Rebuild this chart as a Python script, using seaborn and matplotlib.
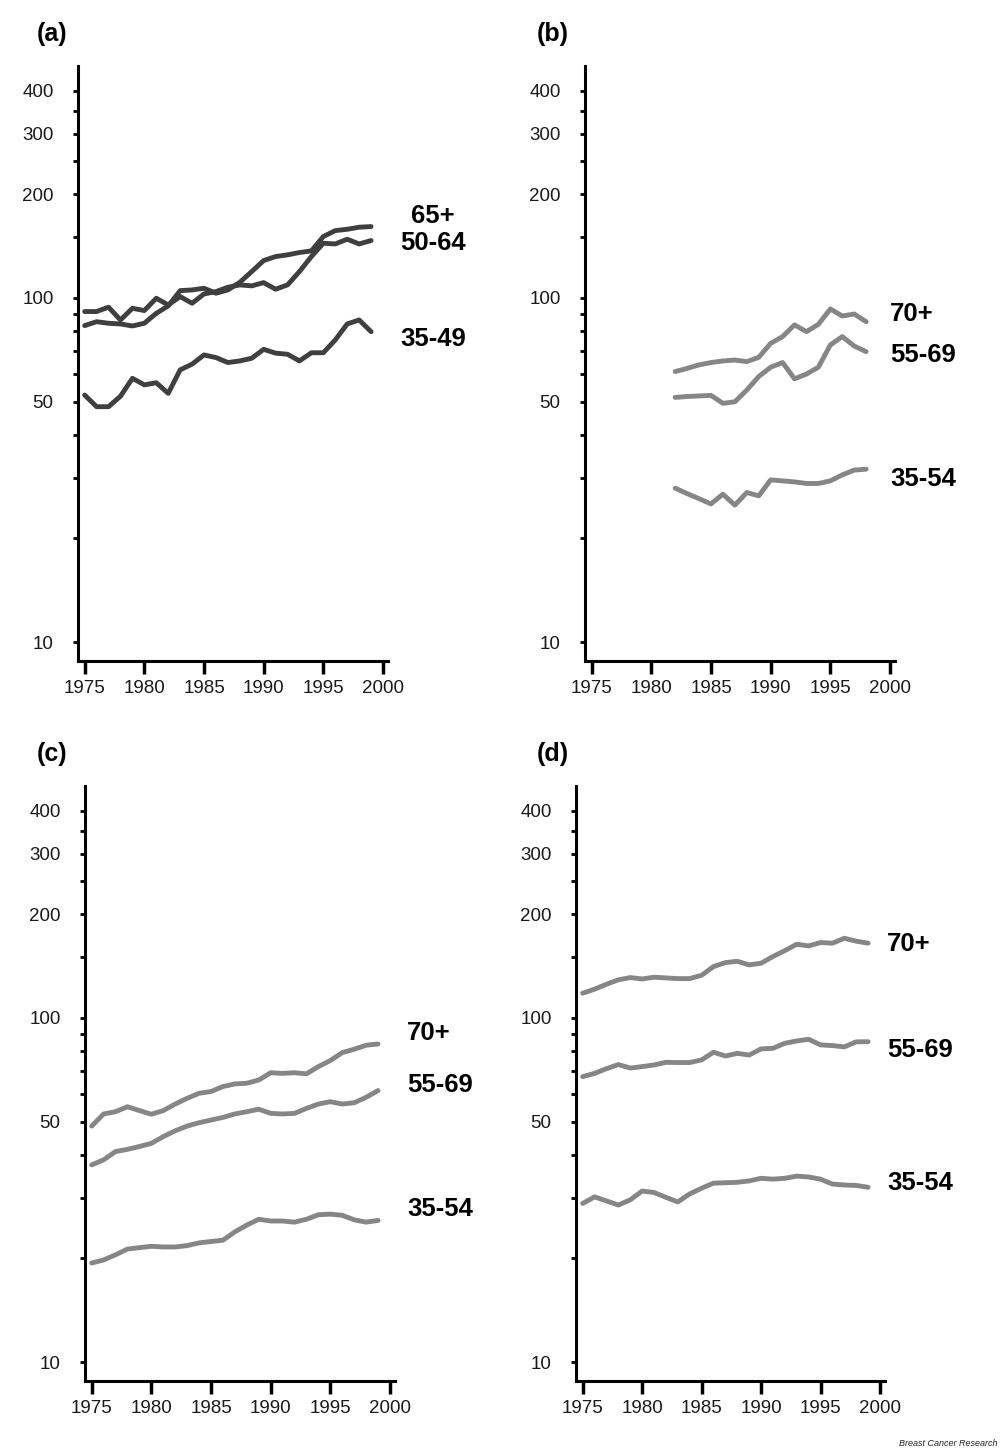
import matplotlib
matplotlib.use("Agg")
import matplotlib.pyplot as plt
import seaborn as sns
import pandas as pd
from matplotlib.ticker import FixedLocator, NullFormatter, FixedFormatter

# ---------------- data ----------------
years_full = list(range(1975, 2000))
years_b = list(range(1982, 1999))

# panel (a)
a_65 = [83.1, 85.3, 84.4, 84.0, 82.9, 84.4, 90.2, 94.8, 105.0, 105.5, 106.7, 103.2, 105.5,
        111.0, 119.3, 128.4, 131.9, 133.4, 135.5, 137.0, 150.8, 156.9, 158.3, 160.5, 161.2]
a_50 = [91.3, 91.3, 94.0, 86.3, 93.3, 91.9, 99.8, 95.4, 100.9, 96.5, 102.7, 104.3, 107.4,
        109.1, 108.4, 110.8, 106.0, 109.1, 119.3, 131.9, 144.2, 143.5, 148.1, 143.5, 146.8]
a_35 = [52.2, 48.3, 48.3, 51.8, 58.4, 55.9, 56.7, 52.8, 61.8, 64.2, 68.3, 67.1, 64.9,
        65.6, 66.8, 70.9, 69.1, 68.6, 65.6, 69.3, 69.3, 75.5, 84.0, 86.3, 79.8]

# panel (b)
b_70 = [61.1, 62.4, 63.9, 64.9, 65.6, 66.0, 65.3, 67.2, 73.8, 77.2, 83.5, 79.8, 83.8,
        92.9, 88.6, 89.8, 85.3]
b_55 = [51.4, 51.7, 51.9, 52.1, 49.4, 49.9, 54.0, 59.1, 62.9, 64.9, 58.2, 60.1, 62.9,
        73.0, 77.2, 72.5, 69.8]
b_35 = [28.0, 27.0, 26.1, 25.2, 26.9, 25.0, 27.2, 26.6, 29.6, 29.4, 29.2, 28.9, 28.9,
        29.4, 30.6, 31.6, 31.8]

# panel (c)
c_70 = [48.5, 52.6, 53.4, 55.2, 53.8, 52.5, 53.8, 56.2, 58.4, 60.4, 61.1, 63.2, 64.3,
        64.6, 66.0, 69.3, 69.0, 69.3, 68.8, 72.2, 75.2, 79.3, 81.1, 83.3, 84.0]
c_55 = [37.4, 38.7, 40.9, 41.5, 42.3, 43.2, 45.2, 47.0, 48.5, 49.6, 50.5, 51.4, 52.6,
        53.4, 54.3, 52.8, 52.6, 52.8, 54.6, 56.2, 57.1, 56.2, 56.7, 58.8, 61.5]
c_35 = [19.4, 19.8, 20.5, 21.3, 21.5, 21.7, 21.6, 21.6, 21.8, 22.2, 22.4, 22.6, 23.9,
        25.0, 26.0, 25.7, 25.7, 25.5, 26.0, 26.8, 26.9, 26.7, 25.9, 25.5, 25.8]

# panel (d)
d_70 = [118.0, 121.2, 125.3, 129.0, 131.0, 129.8, 131.3, 130.7, 130.1, 130.1, 133.0, 141.0, 144.8,
        146.1, 142.6, 144.2, 150.8, 156.9, 163.7, 161.9, 165.6, 164.9, 170.4, 167.1, 164.9]
d_55 = [67.5, 69.0, 71.2, 73.2, 71.5, 72.2, 73.0, 74.3, 74.2, 74.2, 75.5, 79.5, 77.5,
        78.9, 78.0, 81.3, 81.6, 84.4, 85.7, 86.7, 83.5, 83.1, 82.4, 85.2, 85.3]
d_35 = [28.9, 30.2, 29.4, 28.6, 29.6, 31.4, 31.1, 30.1, 29.2, 30.8, 32.0, 33.1, 33.2,
        33.3, 33.6, 34.2, 34.0, 34.2, 34.7, 34.5, 34.0, 32.9, 32.7, 32.6, 32.2]

panel_titles = ["(a)", "(b)", "(c)", "(d)"]
labels_a = ["65+", "50-64", "35-49"]
labels_bcd = ["70+", "55-69", "35-54"]
major_ticks = [10, 50, 100, 200, 300, 400]
minor_ticks = [20, 30, 40, 60, 70, 80, 90, 150, 250, 350]
x_ticks = [1975, 1980, 1985, 1990, 1995, 2000]

# ---------------- style ----------------
sns.set_style("white")
plt.rcParams['font.family'] = ['Liberation Sans', 'DejaVu Sans']

W, H = 1004, 1452
fig = plt.figure(figsize=(W / 100, H / 100), dpi=100)


def make_ax(left, right, top, bottom):
    return fig.add_axes([left / W, 1 - bottom / H, (right - left) / W, (bottom - top) / H])


def style_ax(ax):
    ax.set_yscale('log')
    ax.set_ylim(8.81, 472)
    ax.set_xlim(1974.44, 2000.42)
    ax.yaxis.set_major_locator(FixedLocator(major_ticks))
    ax.yaxis.set_major_formatter(FixedFormatter([str(t) for t in major_ticks]))
    ax.yaxis.set_minor_locator(FixedLocator(minor_ticks))
    ax.yaxis.set_minor_formatter(NullFormatter())
    ax.set_xticks(x_ticks)
    ax.set_xticklabels([str(t) for t in x_ticks])
    for s in ['top', 'right']:
        ax.spines[s].set_visible(False)
    for s in ['left', 'bottom']:
        ax.spines[s].set_linewidth(2.2)
        ax.spines[s].set_color('black')
    ax.tick_params(axis='y', which='both', direction='out', length=3.5, width=2,
                   left=True, color='black', pad=14, labelsize=13.5, labelcolor='#1a1a1a')
    ax.tick_params(axis='x', which='major', direction='out', length=9, width=2.5,
                   bottom=True, color='black', pad=5, labelsize=13.5, labelcolor='#1a1a1a')
    ax.set_xlabel('')
    ax.set_ylabel('')
    ax.grid(False)


def draw(ax, years, series, color):
    for vals in series:
        df = pd.DataFrame({'year': years, 'rate': vals})
        sns.lineplot(data=df, x='year', y='rate', ax=ax, color=color, linewidth=3.5,
                     legend=False)


dark = '#3f3f3f'
gray = '#868686'
lab_kw = dict(va='center', fontsize=18.5, fontweight='bold', color='black', clip_on=False)

ax_a = make_ax(78, 388, 66, 661)
draw(ax_a, years_full, [a_65, a_50, a_35], dark)
style_ax(ax_a)
for lab, (x, y) in zip(labels_a, [(2004.2, 173), (2004.2, 144.5), (2004.2, 76.0)]):
    ax_a.text(x, y, lab, ha='center', **lab_kw)

ax_b = make_ax(585, 895, 66, 661)
draw(ax_b, years_b, [b_70, b_55, b_35], gray)
style_ax(ax_b)
for lab, (x, y) in zip(labels_bcd, [(2000.0, 89.8), (2000.0, 68.3), (2000.0, 29.8)]):
    ax_b.text(x, y, lab, ha='left', **lab_kw)

ax_c = make_ax(85, 395, 786, 1381)
draw(ax_c, years_full, [c_70, c_55, c_35], gray)
style_ax(ax_c)
for lab, (x, y) in zip(labels_bcd, [(2001.45, 90.4), (2001.45, 63.9), (2001.45, 27.8)]):
    ax_c.text(x, y, lab, ha='left', **lab_kw)

ax_d = make_ax(576, 885, 786, 1381)
draw(ax_d, years_full, [d_70, d_55, d_35], gray)
style_ax(ax_d)
for lab, (x, y) in zip(labels_bcd, [(2000.6, 164.1), (2000.6, 80.7), (2000.6, 33.1)]):
    ax_d.text(x, y, lab, ha='left', **lab_kw)

for t, (x, y) in zip(panel_titles, [(37, 34), (537, 34), (37, 754), (537, 754)]):
    fig.text(x / W, 1 - y / H, t, ha='left', va='center', fontsize=18, fontweight='bold',
             color='black')

fig.text(998 / W, 1 - 1443 / H, "Breast Cancer Research", ha='right', va='center',
         fontsize=6.5, style='italic', color='#222222')

fig.savefig("out.png", dpi=100)
